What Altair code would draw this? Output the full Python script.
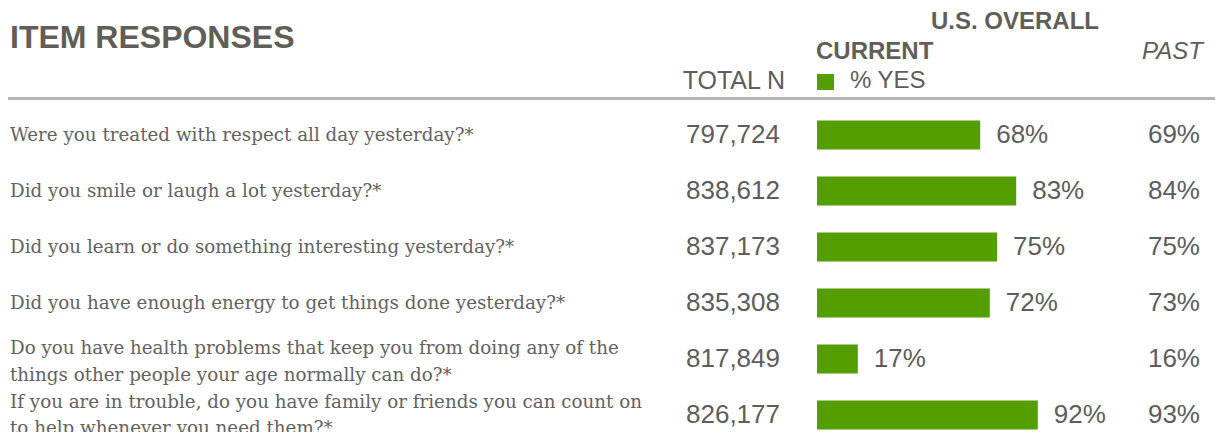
import altair as alt
import pandas as pd

questions = [
    "Were you treated with respect all day yesterday?*",
    "Did you smile or laugh a lot yesterday?*",
    "Did you learn or do something interesting yesterday?*",
    "Did you have enough energy to get things done yesterday?*",
    "Do you have health problems that keep you from doing any of the\nthings other people your age normally can do?*",
    "If you are in trouble, do you have family or friends you can count on\nto help whenever you need them?*",
]
total_n = [797724, 838612, 837173, 835308, 817849, 826177]
current_pct = [68, 83, 75, 72, 17, 92]
past_pct = [69, 84, 75, 73, 16, 93]

GREEN = "#559E00"
TEXT = "#5d5d5d"
HEAD = "#5f5f58"

df = pd.DataFrame({
    "row": list(range(len(questions))),
    "question": questions,
    "n": total_n,
    "cur": current_pct,
    "past": past_pct,
})

xs = alt.Scale(domain=[0, 100], range=[809, 1049], nice=False, zero=False, padding=0)
ys = alt.Scale(domain=[0, 5], range=[127, 407], nice=False, zero=False, padding=0)
Y = alt.Y("row:Q", scale=ys, axis=None)

base = alt.Chart(df)

bars = base.mark_bar(height=29, color=GREEN).encode(
    x=alt.X("cur:Q", scale=xs, axis=None),
    x2=alt.datum(0),
    y=Y,
)

cur_lbl = base.transform_calculate(lbl="datum.cur + '%'").mark_text(
    align="left", baseline="middle", dx=16, font="Liberation Sans", fontSize=26, color=TEXT
).encode(x=alt.X("cur:Q", scale=xs, axis=None), y=Y, text="lbl:N")

n_lbl = base.mark_text(
    align="right", baseline="middle", font="Liberation Sans", fontSize=26, color=TEXT
).encode(x=alt.value(772), y=Y, text=alt.Text("n:Q", format=",d"))

past_lbl = base.transform_calculate(lbl="datum.past + '%'").mark_text(
    align="right", baseline="middle", font="Liberation Sans", fontSize=26, color=TEXT
).encode(x=alt.value(1192), y=Y, text="lbl:N")


def qlayer(cond, dy, lh):
    return base.transform_filter(cond).mark_text(
        align="left", baseline="middle", font="DejaVu Serif", fontSize=18.3,
        lineBreak="\n", lineHeight=lh, dy=dy, color="#626262"
    ).encode(x=alt.value(2), y=Y, text="question:N")


q1 = qlayer("datum.row < 4", 1, 27)
q2 = qlayer("datum.row == 4", -10, 27)
q3 = qlayer("datum.row == 5", -12, 26)

one = pd.DataFrame({"k": [0]})


def htext(txt, x, y, size=24, align="left", weight="normal", style="normal", color=HEAD):
    return alt.Chart(one).mark_text(
        align=align, baseline="middle", font="Liberation Sans", fontSize=size,
        fontWeight=weight, fontStyle=style, color=color
    ).encode(x=alt.value(x), y=alt.value(y), text=alt.value(txt))


title = htext("ITEM RESPONSES", 2, 30, size=32, weight="bold")
us = htext("U.S. OVERALL", 1007, 14, size=24, align="center", weight="bold")
current = htext("CURRENT", 808, 44, size=24, weight="bold")
past = htext("PAST", 1195, 44, align="right", style="italic", color=TEXT)
totn = htext("TOTAL N", 777, 73, size=25, align="right", color=TEXT)
yes = htext("% YES", 842, 73, color=TEXT)

swatch = alt.Chart(one).mark_rect(color=GREEN).encode(
    x=alt.value(809), x2=alt.value(826), y=alt.value(66), y2=alt.value(82)
)
rule = alt.Chart(one).mark_rule(color="#b5b5b5", strokeWidth=3).encode(
    x=alt.value(0), x2=alt.value(1207), y=alt.value(90.5)
)

chart = alt.layer(
    rule, swatch, title, us, current, past, totn, yes,
    bars, cur_lbl, n_lbl, past_lbl, q1, q2, q3
).properties(
    width=1207, height=424, autosize=alt.AutoSizeParams(type="none"), padding=0
).configure_view(stroke=None)

chart.save("out.html", embed_options={"renderer": "svg", "actions": False})
